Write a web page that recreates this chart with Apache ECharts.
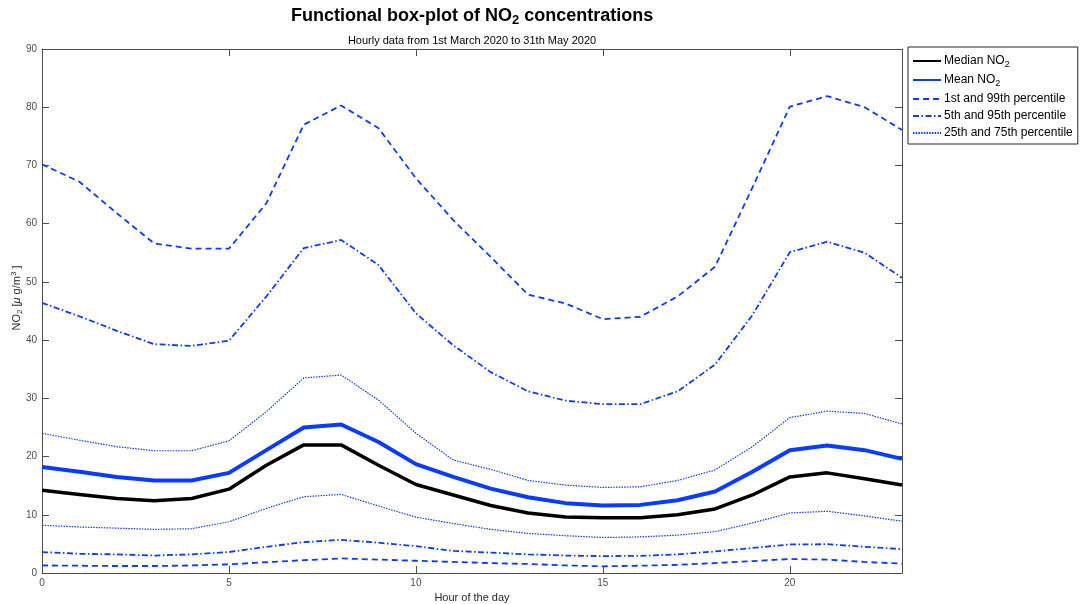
<!DOCTYPE html>
<html><head><meta charset="utf-8">
<script src="https://cdn.jsdelivr.net/npm/echarts@6/dist/echarts.min.js"></script>
<style>html,body{margin:0;padding:0;background:#fff}#c{width:1086px;height:604px}</style>
</head><body><div id="c"></div>
<script>
var hours = [0,1,2,3,4,5,6,7,8,9,10,11,12,13,14,15,16,17,18,19,20,21,22,23];
var median = [14.2,13.5,12.8,12.4,12.8,14.4,18.5,22.0,22.0,18.5,15.2,13.4,11.6,10.3,9.6,9.5,9.5,10.0,11.0,13.4,16.5,17.2,16.2,15.1];
var mean = [18.2,17.4,16.5,15.9,15.9,17.2,21.1,25.0,25.5,22.5,18.7,16.5,14.5,13.0,12.0,11.6,11.7,12.5,14.0,17.4,21.1,21.9,21.1,19.6];
var p1 = [1.3,1.25,1.2,1.2,1.3,1.5,1.85,2.2,2.5,2.3,2.1,1.9,1.7,1.55,1.3,1.15,1.25,1.4,1.7,2.05,2.4,2.3,1.9,1.6];
var p99 = [70.2,67.2,61.8,56.6,55.7,55.7,63.5,77.0,80.3,76.4,67.8,60.6,54.3,47.8,46.3,43.6,44.0,47.5,52.6,66.2,80.1,81.9,80.0,76.1];
var p5 = [3.6,3.3,3.2,3.0,3.2,3.6,4.5,5.3,5.7,5.2,4.6,3.8,3.5,3.2,3.0,2.9,2.95,3.2,3.7,4.3,4.9,4.95,4.5,4.1];
var p95 = [46.4,44.1,41.6,39.3,39.0,39.9,47.5,55.8,57.2,52.9,44.6,39.1,34.5,31.2,29.6,29.0,29.0,31.2,35.8,44.3,55.1,56.9,55.0,50.7];
var p25 = [8.2,7.9,7.7,7.5,7.6,8.8,11.1,13.1,13.5,11.5,9.6,8.5,7.5,6.8,6.4,6.1,6.2,6.5,7.1,8.6,10.3,10.6,9.8,8.9];
var p75 = [24.0,22.8,21.7,21.0,21.0,22.7,27.7,33.5,34.0,29.7,24.0,19.4,17.8,15.9,15.1,14.7,14.8,15.9,17.7,21.7,26.7,27.8,27.4,25.6];
var xTicks = [0,5,10,15,20];
var yTicks = [0,10,20,30,40,50,60,70,80,90];

var BLUE = '#0a3cff';
var FONT = 'Liberation Sans, Arial, sans-serif';
function pairs(arr){ return hours.map(function(h,i){ return [h, arr[i]]; }); }

var legendLabels = {
  'Median': '{t|Median NO}{s|2}',
  'Mean': '{t|Mean NO}{s|2}',
  'p1': '{t|1st and 99th percentile}',
  'p5': '{t|5th and 95th percentile}',
  'p25': '{t|25th and 75th percentile}'
};

function lineSeries(name, data, color, width, type){
  return {
    name: name, type: 'line', data: pairs(data), symbol: 'none', smooth: false,
    lineStyle: { color: color, width: width, type: type, cap: 'butt' },
    itemStyle: { color: color },
    xAxisIndex: 0, yAxisIndex: 0, animation: false, silent: true, z: 3
  };
}

var chart = echarts.init(document.getElementById('c'), null, {renderer: 'canvas'});
var axisCol = '#4d4d4d';
var option = {
  animation: false,
  backgroundColor: '#fff',
  textStyle: { fontFamily: FONT },
  grid: { left: 42, right: 184, top: 49, bottom: 31, containLabel: false, outerBoundsMode: 'none' },
  graphic: [
    { type: 'text', left: 472 - 181, top: 7, style: {
      rich: { t: { fontSize: 18, fontWeight: 'bold', fontFamily: FONT, fill: '#000', lineHeight: 22 },
               s: { fontSize: 13, fontWeight: 'bold', fontFamily: FONT, fill: '#000', lineHeight: 12, verticalAlign: 'bottom' } },
      text: '{t|Functional box-plot of NO}{s|2}{t| concentrations}' } },
    { type: 'text', x: 472, y: 41, style: { text: 'Hourly data from 1st March 2020 to 31th May 2020',
      font: '11px ' + FONT, fill: '#000', align: 'center', verticalAlign: 'middle' } },
    { type: 'text', x: 17, y: 298, rotation: Math.PI / 2, style: {
      align: 'center', verticalAlign: 'middle',
      rich: { t: { fontSize: 11, fontFamily: FONT, fill: '#262626', lineHeight: 14 },
              i: { fontSize: 11, fontFamily: FONT, fontStyle: 'italic', fill: '#262626', lineHeight: 14 },
              s: { fontSize: 8, fontFamily: FONT, fill: '#262626', lineHeight: 8, verticalAlign: 'bottom' },
              p: { fontSize: 8, fontFamily: FONT, fill: '#262626', lineHeight: 8, verticalAlign: 'top' } },
      text: '{t|NO}{s|2}{t| [}{i|μ}{t| g/m}{p|3}{t| ]}' } }
  ],
  legend: {
    orient: 'vertical', left: 908, top: 47,
    data: ['Median','Mean','p1','p5','p25'],
    formatter: function(n){ return legendLabels[n]; },
    textStyle: { fontFamily: FONT, color: '#000', padding: [0,0,0,-2],
      rich: { t: { fontSize: 12, fontFamily: FONT, color: '#000', lineHeight: 16 },
              s: { fontSize: 9, fontFamily: FONT, color: '#000', lineHeight: 9, verticalAlign: 'bottom' } } },
    itemWidth: 28, itemHeight: 14, itemGap: 5,
    itemStyle: { color: 'rgba(0,0,0,0)', borderWidth: 0, opacity: 0 },
    borderColor: '#262626', borderWidth: 1, padding: [8, 5, 5, 4]
  },
  xAxis: [{
    type: 'value', min: 0, max: 23, interval: 5, position: 'bottom',
    name: 'Hour of the day', nameLocation: 'middle', nameGap: 19,
    nameTextStyle: { fontSize: 11, color: '#262626', fontFamily: FONT },
    axisLine: { show: true, onZero: false, lineStyle: { color: axisCol, width: 1 } },
    axisTick: { show: true, inside: true, length: 7, lineStyle: { color: axisCol } },
    axisLabel: { fontSize: 10, color: '#4d4d4d', margin: 5, showMaxLabel: false, fontFamily: FONT,
      formatter: function(v){ return xTicks.indexOf(v) >= 0 ? String(v) : ''; } },
    splitLine: { show: false }
  },{
    type: 'value', min: 0, max: 23, interval: 5, position: 'top',
    axisLine: { show: true, onZero: false, lineStyle: { color: axisCol, width: 1 } },
    axisTick: { show: true, inside: true, length: 7, lineStyle: { color: axisCol } },
    axisLabel: { show: false }, splitLine: { show: false }
  }],
  yAxis: [{
    type: 'value', min: 0, max: 90, interval: 10, position: 'left',
    axisLine: { show: true, onZero: false, lineStyle: { color: axisCol, width: 1 } },
    axisTick: { show: true, inside: true, length: 7, lineStyle: { color: axisCol } },
    axisLabel: { fontSize: 10, color: '#4d4d4d', margin: 5, fontFamily: FONT,
      formatter: function(v){ return yTicks.indexOf(v) >= 0 ? String(v) : ''; } },
    splitLine: { show: false }
  },{
    type: 'value', min: 0, max: 90, interval: 10, position: 'right',
    axisLine: { show: true, onZero: false, lineStyle: { color: axisCol, width: 1 } },
    axisTick: { show: true, inside: true, length: 7, lineStyle: { color: axisCol } },
    axisLabel: { show: false }, splitLine: { show: false }
  }],
  series: [
    lineSeries('Median', median, '#000000', 3.5, 'solid'),
    lineSeries('Mean', mean, BLUE, 4, 'solid'),
    lineSeries('p1', p1, BLUE, 1.8, [6, 4]),
    lineSeries('p1', p99, BLUE, 1.8, [6, 4]),
    lineSeries('p5', p5, BLUE, 1.8, [6, 2.5, 1.5, 2.5]),
    lineSeries('p5', p95, BLUE, 1.8, [6, 2.5, 1.5, 2.5]),
    lineSeries('p25', p25, BLUE, 1.2, [1.5, 1.2]),
    lineSeries('p25', p75, BLUE, 1.2, [1.5, 1.2])
  ]
};
chart.setOption(option);
</script></body></html>
